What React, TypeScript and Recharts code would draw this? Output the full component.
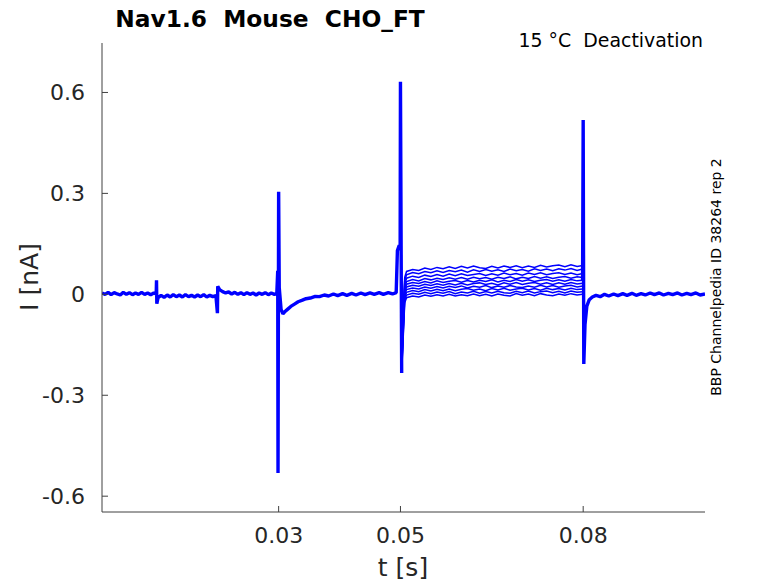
import React from 'react'
import { LineChart, Line, XAxis, YAxis } from 'recharts'

// [t (s), I (nA)] — common part of all sweeps before the 0.05 s step
const preTrace: [number, number][] = [
  [0.001, 0.004], [0.0015, 0.0], [0.002, 0.006], [0.0025, -0.001], [0.003, 0.005],
  [0.0035, 0.001], [0.004, -0.002], [0.0045, 0.006], [0.005, 0.0], [0.0055, 0.005],
  [0.006, -0.001], [0.0065, 0.004], [0.007, 0.0], [0.0075, 0.006], [0.008, 0.0],
  [0.0085, 0.004], [0.009, -0.001], [0.0095, 0.004], [0.0099, 0.001], [0.00995, 0.042],
  [0.01, -0.028], [0.0102, -0.01], [0.0107, -0.003], [0.0112, -0.009], [0.0117, -0.002],
  [0.0122, -0.008], [0.0127, -0.001], [0.0132, -0.007], [0.0137, -0.002], [0.0142, -0.008],
  [0.0147, -0.001], [0.0152, -0.007], [0.0157, -0.003], [0.0162, -0.008], [0.0167, -0.002],
  [0.0172, -0.007], [0.0177, -0.001], [0.0182, -0.008], [0.0187, -0.003], [0.0192, -0.007],
  [0.0197, -0.004], [0.01995, -0.056], [0.02, 0.024], [0.0203, 0.014], [0.0208, 0.008],
  [0.0213, 0.004], [0.0218, 0.007], [0.0223, 0.001], [0.0228, 0.006], [0.0233, 0.0],
  [0.0238, 0.005], [0.0243, -0.001], [0.0248, 0.005], [0.0253, 0.0], [0.0258, 0.004],
  [0.0263, -0.002], [0.0268, 0.004], [0.0273, 0.0], [0.0278, 0.005], [0.0283, -0.001],
  [0.0288, 0.004], [0.0293, 0.0], [0.0297, 0.003], [0.02985, 0.07], [0.0299, -0.531],
  [0.03, 0.305], [0.0301, 0.02], [0.0304, -0.045], [0.0307, -0.058], [0.031, -0.052],
  [0.0315, -0.044], [0.032, -0.036], [0.0326, -0.029], [0.0332, -0.022], [0.0338, -0.018],
  [0.0345, -0.013], [0.0352, -0.011], [0.036, -0.006], [0.0367, -0.007], [0.0375, -0.002],
  [0.0382, -0.005], [0.039, 0.001], [0.0397, -0.004], [0.0405, 0.002], [0.0412, -0.003],
  [0.042, 0.003], [0.0427, -0.002], [0.0435, 0.004], [0.0442, -0.001], [0.045, 0.004],
  [0.0457, 0.0], [0.0465, 0.005], [0.0472, 0.0], [0.048, 0.005], [0.0487, 0.001],
  [0.0493, 0.005], [0.0495, 0.13], [0.0498, 0.146], [0.04995, 0.14], [0.05, 0.632],
  [0.0502, -0.234],
]

// times of the samples inside the 0.05–0.08 s step
const stepTimes = [
  0.0502, 0.0504, 0.0507, 0.051, 0.052, 0.053, 0.054, 0.055, 0.056, 0.057, 0.058,
  0.059, 0.06, 0.061, 0.062, 0.063, 0.064, 0.065, 0.066, 0.067, 0.068, 0.069, 0.07,
  0.071, 0.072, 0.073, 0.074, 0.075, 0.076, 0.077, 0.078, 0.079, 0.0799,
]

// current of each sweep during the step (nA)
const stepSweeps: number[][] = [
  [-0.234, -0.06, 0.05, 0.068, 0.074, 0.071, 0.078, 0.074, 0.08, 0.076, 0.082, 0.077, 0.083, 0.078, 0.084, 0.079, 0.077, 0.083, 0.078, 0.084, 0.08, 0.085, 0.079, 0.084, 0.08, 0.086, 0.081, 0.085, 0.087, 0.082, 0.088, 0.083, 0.086],
  [-0.234, -0.07, 0.04, 0.058, 0.065, 0.061, 0.068, 0.064, 0.07, 0.065, 0.071, 0.067, 0.072, 0.066, 0.073, 0.068, 0.074, 0.069, 0.073, 0.068, 0.075, 0.07, 0.074, 0.069, 0.076, 0.071, 0.075, 0.07, 0.076, 0.072, 0.077, 0.071, 0.075],
  [-0.234, -0.08, 0.03, 0.048, 0.054, 0.05, 0.057, 0.053, 0.059, 0.054, 0.06, 0.055, 0.061, 0.056, 0.059, 0.062, 0.056, 0.061, 0.057, 0.063, 0.058, 0.062, 0.057, 0.063, 0.059, 0.064, 0.058, 0.062, 0.064, 0.059, 0.063, 0.058, 0.062],
  [-0.234, -0.09, 0.02, 0.038, 0.044, 0.04, 0.047, 0.043, 0.048, 0.044, 0.049, 0.045, 0.05, 0.045, 0.051, 0.046, 0.05, 0.045, 0.051, 0.047, 0.052, 0.046, 0.051, 0.047, 0.053, 0.048, 0.052, 0.047, 0.051, 0.053, 0.048, 0.052, 0.05],
  [-0.234, -0.1, 0.012, 0.03, 0.035, 0.032, 0.038, 0.034, 0.04, 0.035, 0.039, 0.041, 0.036, 0.041, 0.037, 0.042, 0.038, 0.043, 0.037, 0.042, 0.038, 0.044, 0.039, 0.043, 0.038, 0.042, 0.044, 0.039, 0.043, 0.039, 0.044, 0.04, 0.042],
  [-0.234, -0.11, 0.005, 0.022, 0.027, 0.024, 0.03, 0.026, 0.031, 0.027, 0.032, 0.028, 0.033, 0.028, 0.032, 0.034, 0.029, 0.033, 0.028, 0.034, 0.03, 0.035, 0.029, 0.033, 0.035, 0.03, 0.034, 0.029, 0.034, 0.03, 0.035, 0.031, 0.033],
  [-0.234, -0.12, -0.002, 0.014, 0.019, 0.016, 0.022, 0.018, 0.023, 0.019, 0.024, 0.02, 0.025, 0.019, 0.024, 0.021, 0.026, 0.02, 0.025, 0.021, 0.026, 0.022, 0.02, 0.025, 0.021, 0.027, 0.022, 0.026, 0.021, 0.025, 0.027, 0.022, 0.025],
  [-0.234, -0.13, -0.01, 0.006, 0.011, 0.008, 0.014, 0.01, 0.015, 0.011, 0.016, 0.011, 0.015, 0.017, 0.012, 0.016, 0.011, 0.017, 0.013, 0.018, 0.012, 0.016, 0.018, 0.013, 0.017, 0.012, 0.018, 0.014, 0.017, 0.013, 0.018, 0.014, 0.016],
  [-0.234, -0.14, -0.018, -0.002, 0.003, 0.0, 0.006, 0.002, 0.007, 0.003, 0.008, 0.002, 0.007, 0.004, 0.009, 0.003, 0.008, 0.004, 0.009, 0.005, 0.003, 0.009, 0.005, 0.01, 0.004, 0.008, 0.01, 0.005, 0.009, 0.004, 0.01, 0.006, 0.008],
  [-0.234, -0.15, -0.025, -0.01, -0.005, -0.008, -0.002, -0.006, -0.001, -0.005, 0.0, -0.005, -0.001, -0.004, 0.001, -0.004, 0.0, -0.005, 0.001, -0.003, -0.005, 0.002, -0.003, 0.001, -0.004, 0.002, -0.002, -0.004, 0.001, -0.003, 0.002, -0.002, 0.0],
]

// [t (s), I (nA)] — common part after the step ends at 0.08 s
const postTrace: [number, number][] = [
  [0.0799, 0.04], [0.08, 0.518], [0.0801, -0.207], [0.0803, -0.09], [0.0806, -0.035],
  [0.081, -0.016], [0.0815, -0.008], [0.0821, -0.003], [0.0828, -0.007], [0.0835, 0.0],
  [0.0842, -0.005], [0.085, 0.001], [0.0857, -0.004], [0.0865, 0.002], [0.0872, -0.003],
  [0.088, 0.003], [0.0887, -0.003], [0.0895, 0.002], [0.0902, -0.002], [0.091, 0.004],
  [0.0917, -0.001], [0.0925, 0.004], [0.0932, -0.002], [0.094, 0.003], [0.0947, -0.001],
  [0.0955, 0.004], [0.0962, -0.002], [0.097, 0.003], [0.0977, -0.001], [0.0985, 0.004],
  [0.0992, -0.002], [0.1, 0.001],
]

const xTicks = [0.03, 0.05, 0.08]
const yTicks = [-0.6, -0.3, 0, 0.3, 0.6]

const toRows = (pairs: [number, number][]) => pairs.map(([t, v]) => ({ t, v }))
const preRows = toRows(preTrace)
const postRows = toRows(postTrace)
const sweepRows = stepSweeps.map((vals) => vals.map((v, i) => ({ t: stepTimes[i], v })))

const BLUE = '#0000ff'
const AXIS = '#404040'
const FONT = 'DejaVu Sans, sans-serif'

export default function App() {
  return (
    <div style={{ position: 'relative', width: 778, height: 583, background: '#fff' }}>
      <style>{'body{margin:0}'}</style>
      <LineChart width={778} height={583} margin={{ top: 43, right: 73, bottom: 41, left: 42 }}>
        <XAxis
          type="number"
          dataKey="t"
          domain={[0.001, 0.1]}
          ticks={xTicks}
          allowDataOverflow
          height={30}
          tickSize={-6}
          tickMargin={21}
          stroke={AXIS}
          tick={{ fill: '#262626', fontSize: 22, fontFamily: FONT }}
        />
        <YAxis
          type="number"
          domain={[-0.647, 0.747]}
          ticks={yTicks}
          allowDataOverflow
          width={60}
          tickSize={-6}
          tickMargin={23}
          stroke={AXIS}
          tick={{ fill: '#262626', fontSize: 22, fontFamily: FONT }}
        />
        <Line data={preRows} dataKey="v" stroke={BLUE} strokeWidth={3.4} strokeLinejoin="bevel" dot={false} isAnimationActive={false} />
        {sweepRows.map((rows, i) => (
          <Line key={i} data={rows} dataKey="v" stroke={BLUE} strokeWidth={1.5} dot={false} isAnimationActive={false} />
        ))}
        <Line data={postRows} dataKey="v" stroke={BLUE} strokeWidth={3.4} strokeLinejoin="bevel" dot={false} isAnimationActive={false} />
      </LineChart>
      <svg width={778} height={583} style={{ position: 'absolute', left: 0, top: 0, pointerEvents: 'none' }}>
        <text x={270} y={27} textAnchor="middle" fontFamily={FONT} fontWeight="bold" fontSize={23.3} fill="#000" style={{ whiteSpace: 'pre' }}>
          {'Nav1.6  Mouse  CHO_FT'}
        </text>
        <text x={703} y={47} textAnchor="end" fontFamily={FONT} fontSize={18.9} fill="#000" style={{ whiteSpace: 'pre' }}>
          {'15 °C  Deactivation'}
        </text>
        <text x={721} y={277} textAnchor="middle" fontFamily={FONT} fontSize={14} fill="#000" transform="rotate(-90 721 277)">
          BBP Channelpedia ID 38264 rep 2
        </text>
        <text x={38} y={277} textAnchor="middle" fontFamily={FONT} fontSize={25} fill="#262626" transform="rotate(-90 38 277)">
          I [nA]
        </text>
        <text x={403} y={576} textAnchor="middle" fontFamily={FONT} fontSize={25} fill="#262626">
          t [s]
        </text>
      </svg>
    </div>
  )
}
